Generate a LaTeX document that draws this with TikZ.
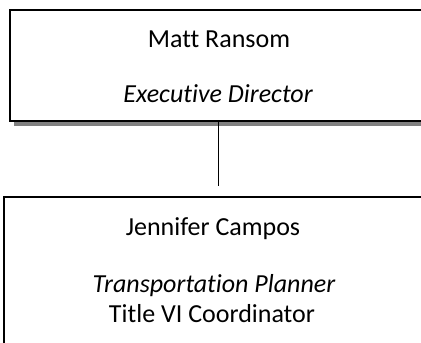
\documentclass[tikz,border=0pt]{standalone}
\usepackage{fontspec}
\setmainfont{Carlito}[Ligatures=NoCommon]
\usetikzlibrary{shadows}

\tikzset{
	staffbox/.style={draw, line width=2pt, fill=white, inner sep=0pt,
		drop shadow={shadow xshift=4pt, shadow yshift=-5pt, fill=black!50, opacity=1}},
	staffname/.style={anchor=base, inner sep=0pt, font=\fontsize{26}{30}\selectfont},
	stafftitle/.style={staffname, font=\fontsize{26}{30}\selectfont\itshape}
}

\begin{document}
\begin{tikzpicture}[x=1pt,y=-1pt]
	
	% Page frame
	\clip (0,0) rectangle (421,343);
	\fill[white] (0,0) rectangle (421,343);
	
	% Draw boxes
	\node[staffbox, minimum width=417pt, minimum height=111pt] (director) at (218.5,65.5) {};
	\node[staffbox, minimum width=420pt, minimum height=150pt] (planner) at (214,272) {};
	
	% Names and titles
	\node[staffname] (ransom) at (219,47) {Matt Ransom};
	\node[stafftitle] (exec) at (218,102) {Executive Director};
	\node[staffname] (campos) at (213,235) {Jennifer Campos};
	\node[stafftitle] (transp) at (214,292) {Transportation Planner};
	\node[staffname] (titlevi) at (212,322) {Title VI Coordinator};
	
	% Reporting line, stops short of the lower box
	\coordinate (drop) at (218.5,186);
	\draw[line width=1.8pt] (director.south) -- (drop);
	
\end{tikzpicture}
\end{document}
